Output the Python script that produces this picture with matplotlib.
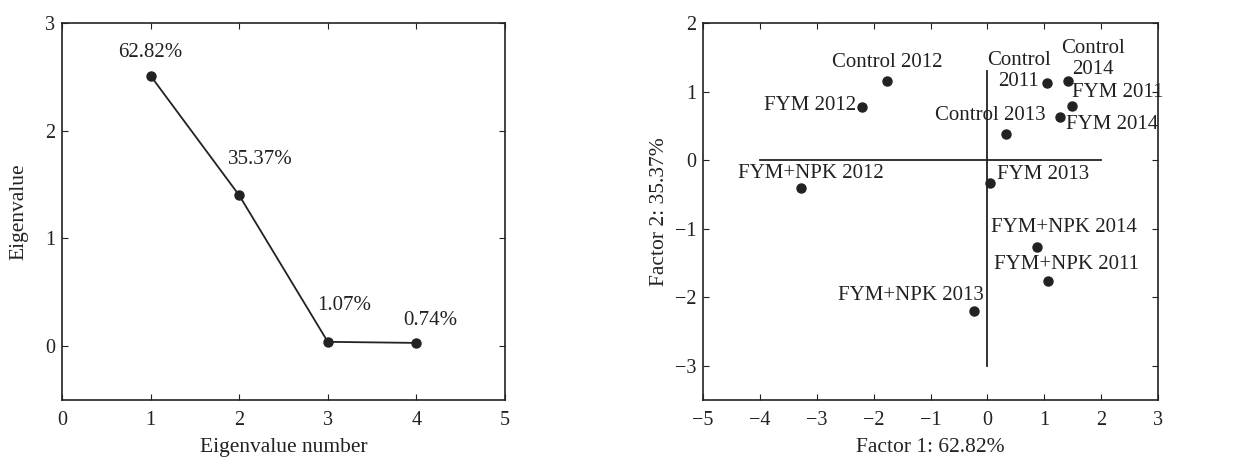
import matplotlib
matplotlib.use("Agg")
from matplotlib import pyplot as plt

plt.rcParams['font.family'] = ['Liberation Serif', 'DejaVu Serif']
plt.rcParams['font.size'] = 15

# scree plot data
eig_num = [1, 2, 3, 4]
eig_val = [2.51, 1.40, 0.04, 0.03]
eig_pct = ["62.82%", "35.37%", "1.07%", "0.74%"]
pct_pos = [(1.0, 2.73), (2.24, 1.73), (3.18, 0.38), (4.16, 0.235)]

# factor scores
names = ["Control 2012", "FYM 2012", "FYM+NPK 2012", "Control\n2011", "Control\n2014",
         "FYM 2011", "FYM 2014", "Control 2013", "FYM 2013", "FYM+NPK 2014",
         "FYM+NPK 2011", "FYM+NPK 2013"]
f1 = [-1.76, -2.20, -3.27, 1.04, 1.42, 1.48, 1.28, 0.32, 0.05, 0.88, 1.06, -0.235]
f2 = [1.16, 0.77, -0.40, 1.12, 1.16, 0.795, 0.625, 0.38, -0.34, -1.275, -1.77, -2.20]
lab_x = [-1.76, -2.30, -3.11, 0.55, 1.85, 1.48, 1.39, 0.05, 0.17, 1.35, 1.40, -1.34]
lab_y = [1.43, 0.80, -0.196, 1.30, 1.48, 0.98, 0.52, 0.65, -0.21, -0.98, -1.53, -1.97]
lab_ha = ["center", "right", "center", "center", "center", "left", "left", "center",
          "left", "center", "center", "center"]

ink = "#222222"

fig = plt.figure(figsize=(12.58, 4.58), dpi=100)
ax1 = fig.add_axes([62 / 1258, 58 / 458, 443 / 1258, 377 / 458])
ax2 = fig.add_axes([703 / 1258, 58 / 458, 455 / 1258, 377 / 458])

for ax in (ax1, ax2):
    ax.tick_params(direction="in", top=True, right=True, length=4, colors=ink,
                   labelsize=14.5)
    ax.tick_params(axis="x", pad=8)
    ax.tick_params(axis="y", pad=5)
    for s in ax.spines.values():
        s.set_color(ink)
        s.set_linewidth(1.2)

# left panel
ax1.plot(eig_num, eig_val, color=ink, lw=1.3, marker="o", ms=6.5)
for (px, py), t in zip(pct_pos, eig_pct):
    ax1.text(px, py, t, ha="center", va="center", fontsize=15, color=ink)
ax1.set_xlim(0, 5)
ax1.set_ylim(-0.5, 3)
ax1.set_xticks([0, 1, 2, 3, 4, 5])
ax1.set_yticks([0, 1, 2, 3])
ax1.set_xlabel("Eigenvalue number", fontsize=15.5, color=ink, labelpad=6)
ax1.set_ylabel("Eigenvalue", fontsize=15.5, color=ink, labelpad=12)

# right panel
ax2.plot([-4, 2], [0, 0], color=ink, lw=1.3)
ax2.plot([0, 0], [-3, 1.3], color=ink, lw=1.3)
ax2.plot(f1, f2, "o", color=ink, ms=6.5)
for t, x, y, ha in zip(names, lab_x, lab_y, lab_ha):
    ax2.text(x, y, t, ha=ha, va="center", fontsize=15, color=ink,
             multialignment="center", linespacing=1.15)
ax2.set_xlim(-5, 3)
ax2.set_ylim(-3.5, 2)
ax2.set_xticks(range(-5, 4))
ax2.set_yticks(range(-3, 3))
ax2.set_xlabel("Factor 1: 62.82%", fontsize=15.5, color=ink, labelpad=6)
ax2.set_ylabel("Factor 2: 35.37%", fontsize=15.5, color=ink, labelpad=4)

fig.savefig("out.png", dpi=100)
